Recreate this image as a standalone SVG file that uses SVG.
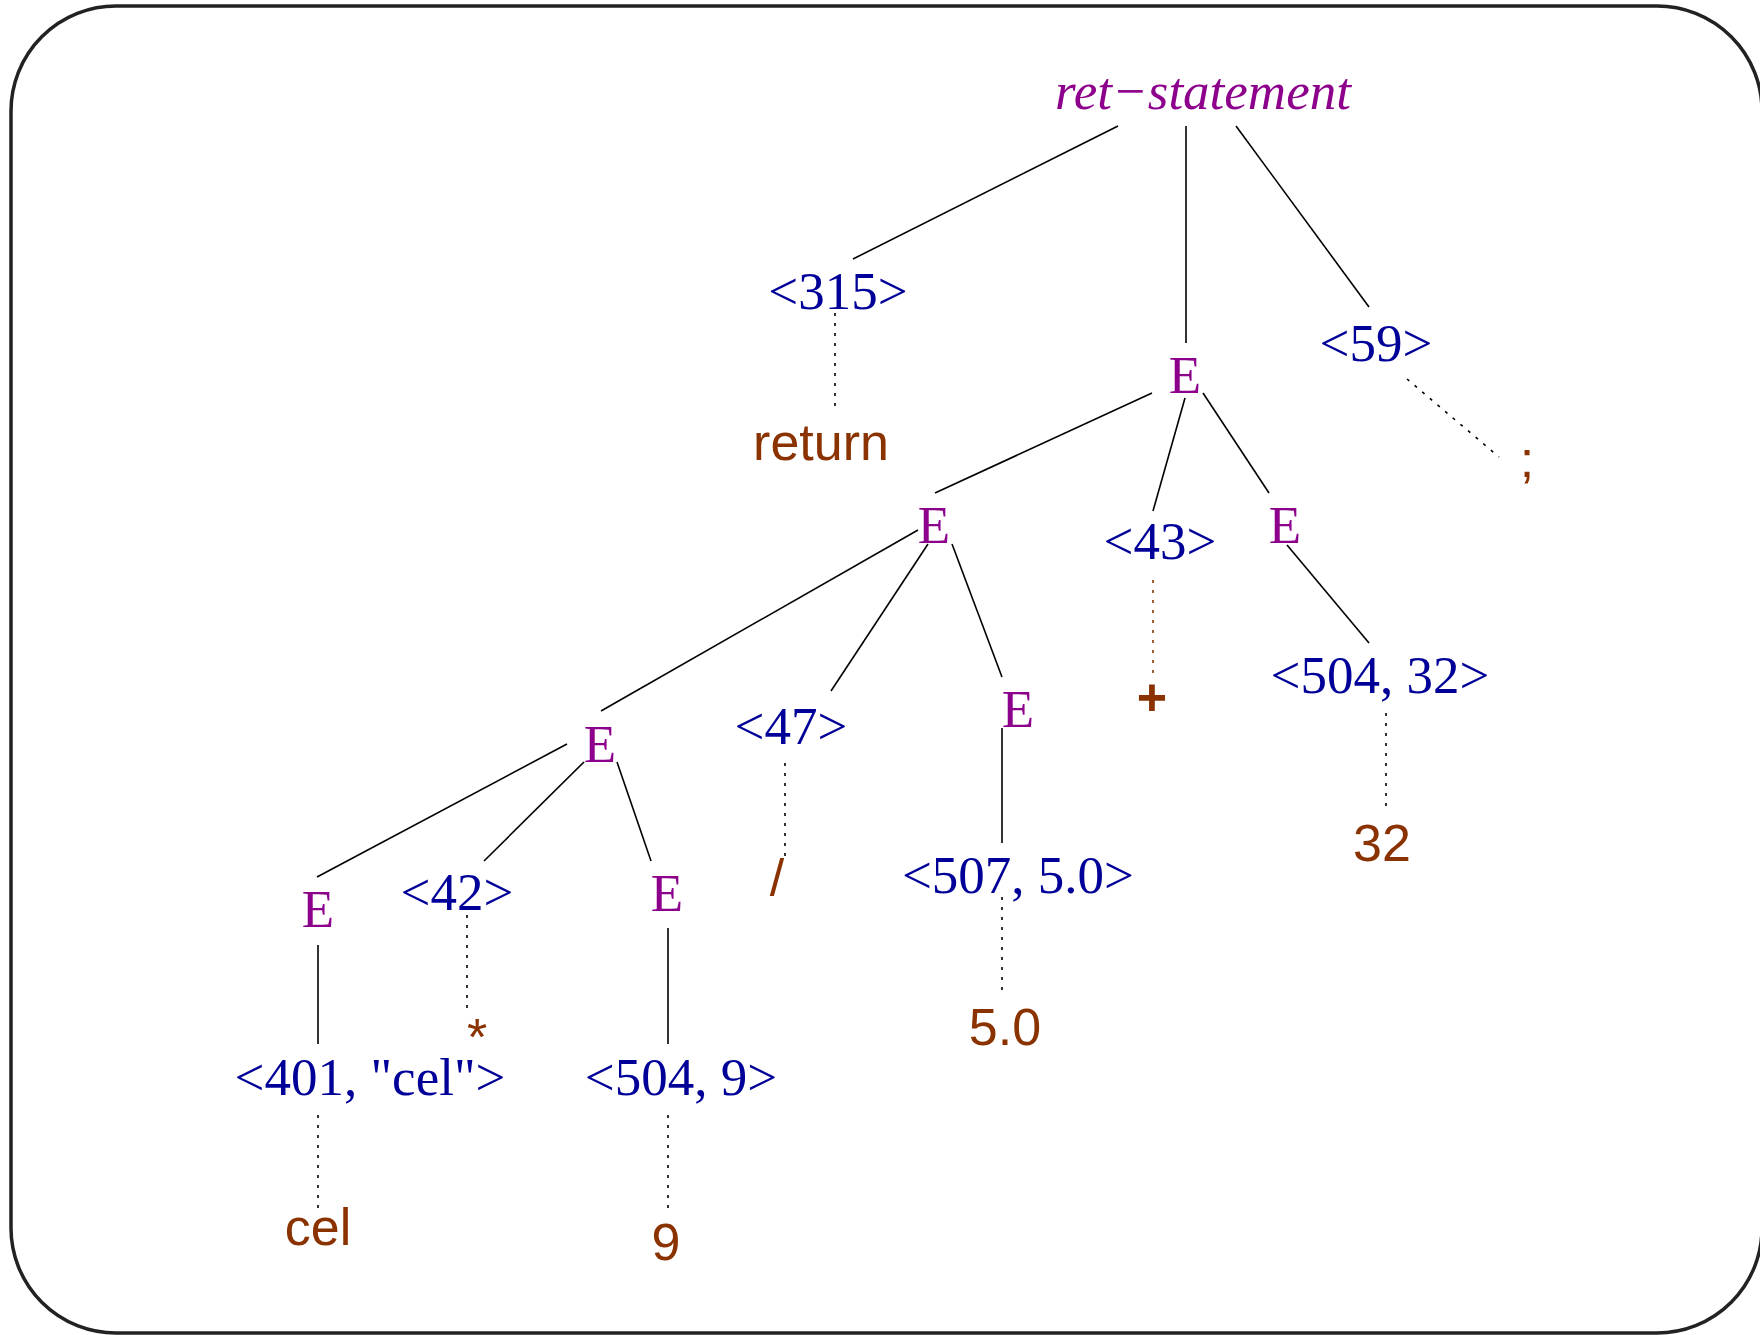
<svg xmlns="http://www.w3.org/2000/svg" width="1760" height="1335" viewBox="0 0 1760 1335">
<style>
.nt{font-family:"Liberation Serif","Times New Roman",serif;font-size:53px;fill:#8c008c;text-anchor:middle}
.tk{font-family:"Liberation Serif","Times New Roman",serif;font-size:53px;fill:#000099;text-anchor:middle}
.lx{font-family:"Liberation Sans",Arial,sans-serif;font-size:52px;fill:#8a3200;text-anchor:middle}
.e{stroke:#000;stroke-width:1.6;fill:none}
.d{stroke:#000;stroke-width:1.6;stroke-dasharray:3 7;fill:none}
</style>
<rect x="11" y="6" width="1751" height="1327" rx="105" ry="105" fill="#fff" stroke="#222" stroke-width="3.5"/>
<g id="connectors">
<line class="e" x1="1118" y1="126" x2="853" y2="259"/>
<line class="e" x1="1186" y1="126" x2="1186" y2="343"/>
<line class="e" x1="1236" y1="126" x2="1369" y2="307"/>
<line class="e" x1="1152" y1="393" x2="935" y2="493"/>
<line class="e" x1="1185" y1="398" x2="1153" y2="511"/>
<line class="e" x1="1203" y1="393" x2="1269" y2="493"/>
<line class="e" x1="1287" y1="545" x2="1369" y2="643"/>
<line class="e" x1="918" y1="530" x2="601" y2="711"/>
<line class="e" x1="928" y1="544" x2="831" y2="691"/>
<line class="e" x1="952" y1="544" x2="1002" y2="677"/>
<line class="e" x1="1002" y1="728" x2="1002" y2="843"/>
<line class="e" x1="567" y1="744" x2="317" y2="877"/>
<line class="e" x1="584" y1="762" x2="484" y2="861"/>
<line class="e" x1="617" y1="762" x2="651" y2="861"/>
<line class="e" x1="318" y1="945" x2="318" y2="1044"/>
<line class="e" x1="668" y1="928" x2="668" y2="1044"/>
<line class="d" x1="835" y1="313" x2="835" y2="409"/>
<line class="d" x1="1407" y1="379" x2="1499" y2="457"/>
<line class="d" x1="1153" y1="580" x2="1153" y2="677" style="stroke:#8a3200"/>
<line class="d" x1="1386" y1="713" x2="1386" y2="810"/>
<line class="d" x1="785" y1="763" x2="785" y2="860"/>
<line class="d" x1="1002" y1="897" x2="1002" y2="993"/>
<line class="d" x1="467" y1="915" x2="467" y2="1013"/>
<line class="d" x1="318" y1="1115" x2="318" y2="1212"/>
<line class="d" x1="668" y1="1115" x2="668" y2="1212"/>
</g>
<g id="ret-statement"><text class="nt" x="1203" y="109" font-style="italic" font-size="54">ret−statement</text></g>
<g id="t315"><text class="tk" x="838" y="309">&lt;315&gt;</text></g>
<g id="return"><text class="lx" x="821" y="460">return</text></g>
<g id="t59"><text class="tk" x="1376" y="361">&lt;59&gt;</text></g>
<g id="semi"><text class="lx" x="1527" y="477">;</text></g>
<g id="E1"><text class="nt" x="1185" y="393">E</text></g>
<g id="E2"><text class="nt" x="934" y="543">E</text></g>
<g id="t43"><text class="tk" x="1160" y="559">&lt;43&gt;</text></g>
<g id="plus"><text class="lx" x="1152" y="715" font-weight="bold">+</text></g>
<g id="E3"><text class="nt" x="1285" y="543">E</text></g>
<g id="t504_32"><text class="tk" x="1380" y="693">&lt;504, 32&gt;</text></g>
<g id="n32"><text class="lx" x="1382" y="861">32</text></g>
<g id="E4"><text class="nt" x="600" y="762">E</text></g>
<g id="t47"><text class="tk" x="791" y="744">&lt;47&gt;</text></g>
<g id="slash"><text class="lx" x="777" y="896" font-weight="300">/</text></g>
<g id="E5"><text class="nt" x="1018" y="727">E</text></g>
<g id="t507"><text class="tk" x="1018" y="893">&lt;507, 5.0&gt;</text></g>
<g id="n50"><text class="lx" x="1005" y="1045">5.0</text></g>
<g id="E6"><text class="nt" x="318" y="927">E</text></g>
<g id="t42"><text class="tk" x="457" y="910">&lt;42&gt;</text></g>
<g id="star"><text class="lx" x="477" y="1055">*</text></g>
<g id="E7"><text class="nt" x="667" y="911">E</text></g>
<g id="t401"><text class="tk" x="370" y="1095">&lt;401, "cel"&gt;</text></g>
<g id="cel"><text class="lx" x="318" y="1245">cel</text></g>
<g id="t504_9"><text class="tk" x="681" y="1095">&lt;504, 9&gt;</text></g>
<g id="n9"><text class="lx" x="666" y="1260">9</text></g>
</svg>
